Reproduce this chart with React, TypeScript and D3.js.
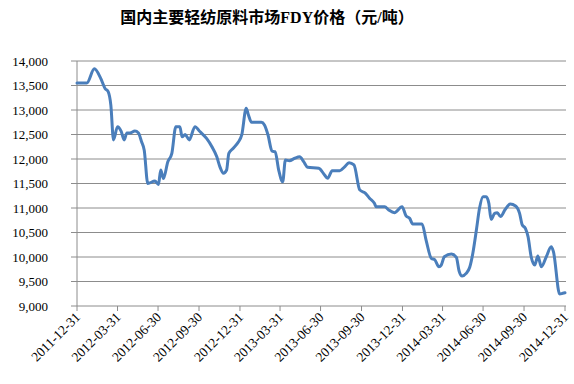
import React from "react";
import * as d3 from "d3";

const TITLE = "国内主要轻纺原料市场FDY价格（元/吨）";

const dates: string[] = [
  "2011-12-31", "2012-01-22", "2012-02-08", "2012-02-22", "2012-03-03", "2012-03-10", "2012-03-16", "2012-03-22",
  "2012-03-31", "2012-04-08", "2012-04-15", "2012-04-21", "2012-04-28", "2012-05-09", "2012-05-17", "2012-05-24",
  "2012-05-30", "2012-06-07", "2012-06-23", "2012-07-01", "2012-07-06", "2012-07-12", "2012-07-22", "2012-07-31",
  "2012-08-09", "2012-08-18", "2012-08-23", "2012-08-30", "2012-09-08", "2012-09-21", "2012-10-02", "2012-10-17",
  "2012-10-29", "2012-11-09", "2012-11-16", "2012-11-24", "2012-12-01", "2012-12-06", "2012-12-16", "2012-12-27",
  "2013-01-04", "2013-01-14", "2013-01-19", "2013-01-26", "2013-02-17", "2013-02-24", "2013-03-04", "2013-03-13",
  "2013-03-20", "2013-03-28", "2013-04-06", "2013-04-12", "2013-04-21", "2013-05-03", "2013-05-14", "2013-05-23",
  "2013-06-01", "2013-06-26", "2013-07-09", "2013-07-16", "2013-07-26", "2013-08-12", "2013-08-23", "2013-09-02",
  "2013-09-13", "2013-09-26", "2013-10-09", "2013-10-18", "2013-10-29", "2013-11-02", "2013-11-21", "2013-11-30",
  "2013-12-13", "2013-12-30", "2014-01-08", "2014-01-16", "2014-01-23", "2014-02-13", "2014-02-22", "2014-03-06",
  "2014-03-13", "2014-03-23", "2014-03-28", "2014-04-04", "2014-04-20", "2014-05-01", "2014-05-07", "2014-05-14",
  "2014-05-23", "2014-05-31", "2014-06-07", "2014-06-15", "2014-06-22", "2014-06-30", "2014-07-07", "2014-07-13",
  "2014-07-18", "2014-07-26", "2014-08-01", "2014-08-08", "2014-08-19", "2014-08-30", "2014-09-11", "2014-09-20",
  "2014-09-26", "2014-10-03", "2014-10-09", "2014-10-16", "2014-10-24", "2014-10-31", "2014-11-08", "2014-11-19",
  "2014-11-30", "2014-12-05", "2014-12-19", "2014-12-26", "2014-12-31",
];

const prices: number[] = [
  13550, 13550, 13840, 13650, 13440, 13375, 13100, 12390,
  12660, 12570, 12390, 12530, 12530, 12570, 12530, 12350,
  12180, 11500, 11550, 11480, 11775, 11600, 11945, 12115,
  12660, 12660, 12455, 12500, 12390, 12660, 12560, 12420,
  12250, 12045, 11840, 11710, 11775, 12115, 12220, 12340,
  12490, 13035, 12900, 12750, 12750, 12695, 12490, 12160,
  12150, 11775, 11535, 11980, 11965, 12015, 12045, 11945,
  11830, 11810, 11675, 11605, 11760, 11760, 11840, 11925,
  11880, 11370, 11300, 11200, 11095, 11025, 11025, 10960,
  10905, 11025, 10840, 10790, 10675, 10675, 10345, 9970,
  9950, 9800, 9835, 10005, 10060, 9990, 9720, 9610,
  9665, 9790, 10075, 10550, 10995, 11230, 11230, 11095,
  10770, 10890, 10905, 10825, 10975, 11080, 11040, 10890,
  10655, 10585, 10415, 10005, 9835, 10020, 9800, 10005,
  10210, 10110, 9245, 9260, 9270,
];

const xTickLabels: string[] = [
  "2011-12-31", "2012-03-31", "2012-06-30", "2012-09-30", "2012-12-31", "2013-03-31", "2013-06-30",
  "2013-09-30", "2013-12-31", "2014-03-31", "2014-06-30", "2014-09-30", "2014-12-31",
];

const yTicks: number[] = [9000, 9500, 10000, 10500, 11000, 11500, 12000, 12500, 13000, 13500, 14000];

export default function App() {
  const W = 574, H = 384;
  const left = 77, right = 565, top = 61, bottom = 306;
  const parse = d3.utcParse("%Y-%m-%d");
  const x = d3.scaleUtc().domain([parse("2011-12-31")!, parse("2014-12-31")!]).range([left, right]);
  const y = d3.scaleLinear().domain([9000, 14000]).range([bottom, top]);
  const data = dates.map((d, i) => ({ d: parse(d)!, v: prices[i] }));
  const line = d3.line<{ d: Date; v: number }>()
    .x((p) => x(p.d))
    .y((p) => y(p.v))
    .curve(d3.curveMonotoneX);
  const fmt = d3.format(",");
  const grid = "#8c8c8c";
  const font = "'Liberation Serif', 'Times New Roman', serif";

  return (
    <svg width={W} height={H} style={{ position: "absolute", left: 0, top: 0, background: "#fff" }}>
      <text x={267} y={23} textAnchor="middle" fontSize={16} fontWeight="bold"
        fontFamily="'Liberation Serif', 'Noto Sans CJK SC', serif" fill="#000">{TITLE}</text>
      {yTicks.map((t) => (
        <g key={t}>
          <line x1={left - 6} x2={right + 1} y1={y(t)} y2={y(t)} stroke={grid} strokeWidth={1} />
          <text x={48} y={y(t) + 4.5} textAnchor="end" fontSize={13} fontFamily={font} fill="#000">{fmt(t)}</text>
        </g>
      ))}
      <line x1={left} x2={left} y1={top} y2={bottom} stroke={grid} strokeWidth={1} />
      {xTickLabels.map((s) => {
        const xx = x(parse(s)!);
        return (
          <g key={s}>
            <line x1={xx} x2={xx} y1={bottom} y2={bottom + 5} stroke={grid} strokeWidth={1} />
            <text transform={`translate(${xx + 4},${bottom + 12}) rotate(-45)`} textAnchor="end"
              fontSize={13.5} fontFamily={font} fill="#000">{s}</text>
          </g>
        );
      })}
      <path d={line(data) ?? ""} fill="none" stroke="#4a7ebb" strokeWidth={3} strokeLinejoin="round" strokeLinecap="round" />
    </svg>
  );
}
